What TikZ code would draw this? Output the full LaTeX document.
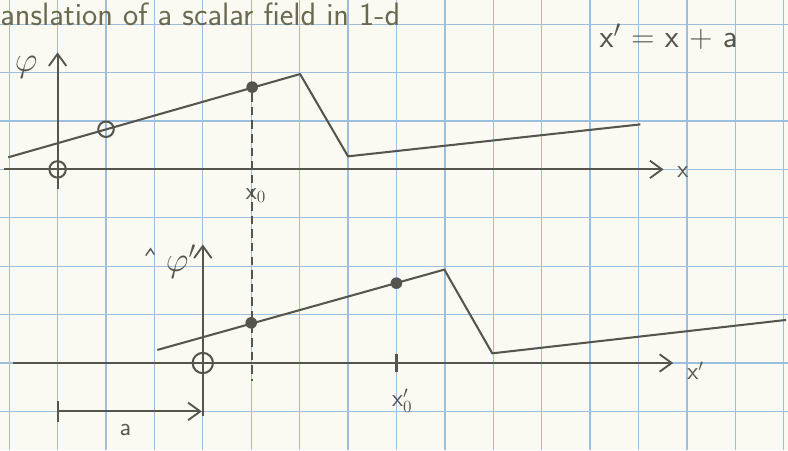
\documentclass[tikz,border=0pt]{standalone}
\usepackage{amsmath}
\usetikzlibrary{arrows.meta}
\definecolor{paper}{HTML}{FAFAF3}
\definecolor{gridblue}{HTML}{9DBFDE}
\definecolor{ink}{HTML}{55554E}
\definecolor{pencil}{HTML}{6C6950}

\begin{document}
\begin{tikzpicture}[
  >={Straight Barb[length=2.5mm, width=3.6mm]},
  gridline/.style={gridblue, line width=0.8pt},
  axis/.style={->, ink, line width=1.1pt},
  curve/.style={ink, line width=1.2pt, line join=round},
  dot/.style={circle, fill=ink, inner sep=0pt, minimum size=2.4mm},
  ring/.style={circle, draw=ink, line width=1.2pt, inner sep=0pt, minimum size=#1},
  lbl/.style={text=ink, font=\sffamily\Large, inner sep=1pt},
]

% Paper and grid
\fill[paper] (-0.19,-0.80) rectangle (16.09,8.50);
\useasboundingbox (-0.19,-0.80) rectangle (16.09,8.50);
\draw[gridline, step=1] (-0.19,-0.80) grid (16.09,8.50);

% Title
\node[text=pencil, font=\sffamily\fontsize{19}{21}\selectfont, anchor=west, inner sep=0pt]
  (title) at (-0.19,8.20) {anslation of a scalar field in 1-d};
\node[lbl, font=\sffamily\fontsize{19}{21}\selectfont] (rule) at (13.62,7.74) {x$'$ = x + a};

% =============================================
% Upper plot: phi(x)
% =============================================
\coordinate (xs) at (-0.10,5.00);
\coordinate (xe) at (13.52,5.00);
\coordinate (ps) at (1.00,4.60);
\coordinate (pe) at (1.00,7.42);
\draw[axis] (xs) -- (xe);
\draw[axis] (ps) -- (pe);
\node[lbl] (xl) at (13.92,4.95) {x};
\node[lbl, font=\huge] (pl) at (0.35,7.10) {$\varphi$};

\draw[curve] (-0.02,5.25) coordinate (c0) -- (6.01,6.97) coordinate (c1)
  -- (7.00,5.27) coordinate (c2) -- (13.04,5.93) coordinate (c3);

\node[ring=3.4mm] (o1) at (1.00,5.00) {};
\node[ring=3.2mm, minimum width=2.6mm] (m1) at (2.00,5.83) {};
\node[dot] (d0) at (5.02,6.70) {};
\node[lbl] (x0) at (5.10,4.46) {x$_0$};

% dashed drop from x0
\coordinate (dd) at (5.02,0.62);
\draw[ink, line width=1.1pt, dash pattern=on 5pt off 3pt] (d0) -- (dd);

% =============================================
% Lower plot: phi'(x')
% =============================================
\coordinate (us) at (0.07,1.00);
\coordinate (ue) at (13.72,1.00);
\coordinate (qs) at (4.00,-0.10);
\coordinate (qe) at (4.00,3.45);
\draw[axis] (us) -- (ue);
\draw[axis] (qs) -- (qe);
\node[lbl] (ul) at (14.18,0.84) {x$'$};
\node[lbl, font=\huge] (ql) at (3.55,3.10) {$\varphi'$};
\draw[ink, line width=0.8pt] (2.82,3.22) -- (2.92,3.36) -- (3.00,3.24);

\draw[curve] (3.06,1.27) coordinate (e0) -- (8.99,2.93) coordinate (e1)
  -- (9.98,1.20) coordinate (e2) -- (16.05,1.89) coordinate (e3);

\node[ring=4.2mm] (o2) at (4.00,1.00) {};
\node[dot] (d1) at (5.00,1.83) {};
\node[dot] (d2) at (8.00,2.65) {};
\draw[ink, line width=1.6pt] (8.00,0.82) -- (8.00,1.18);
\node[lbl] (x0p) at (8.12,0.22) {x$'_0$};

% shift a
\coordinate (as) at (1.00,0.00);
\coordinate (ae) at (3.98,0.00);
\draw[axis] (as) -- (ae);
\draw[ink, line width=1.1pt] (1.00,-0.22) -- (1.00,0.22);
\node[lbl] (al) at (2.40,-0.38) {a};

\end{tikzpicture}
\end{document}
